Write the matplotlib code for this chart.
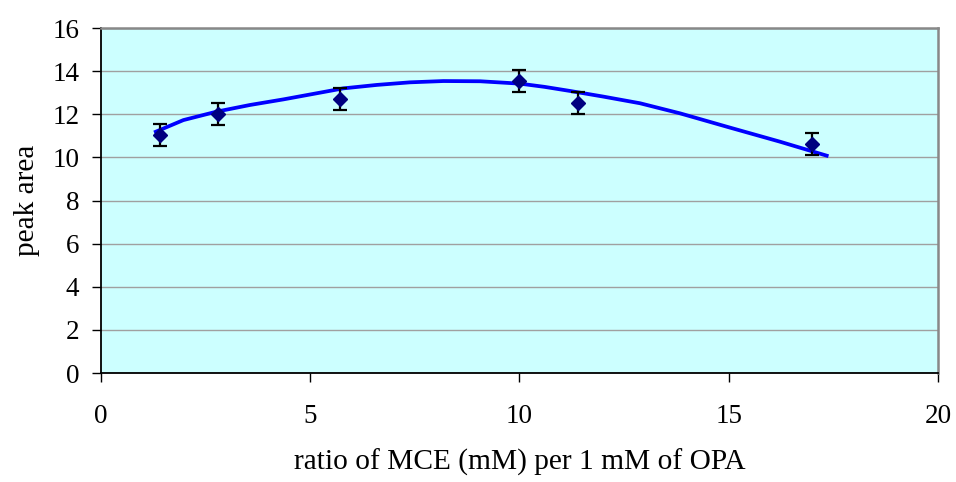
import matplotlib
matplotlib.use("Agg")
import matplotlib.pyplot as plt

ratio = [1.4, 2.8, 5.7, 10.0, 11.4, 17.0]
peak_area = [11.04, 12.0, 12.71, 13.54, 12.51, 10.62]
err = [0.5, 0.5, 0.5, 0.5, 0.5, 0.5]

# trendline
trend_x = [1.31, 1.97, 2.76, 3.56, 4.36, 5.23, 5.79, 6.59, 7.38, 8.18, 9.06,
           10.01, 10.6, 11.21, 12.0, 12.88, 13.84, 15.03, 16.22, 17.34]
trend_y = [11.19, 11.73, 12.12, 12.43, 12.69, 13.0, 13.2, 13.36, 13.48, 13.54, 13.53,
           13.42, 13.27, 13.08, 12.82, 12.51, 12.04, 11.38, 10.73, 10.08]

plt.rcParams['font.family'] = ['Liberation Serif', 'DejaVu Serif']

fig = plt.figure(figsize=(9.56, 4.82), dpi=100)
ax = fig.add_axes([0.1056, 0.2261, 0.8756, 0.7158])
ax.set_facecolor('#CCFFFF')

ax.plot(trend_x, trend_y, color='#0000FF', lw=2.7, zorder=3, solid_joinstyle='round')

ax.errorbar(ratio, peak_area, yerr=err, fmt='D', color='#000080', ms=7,
            ecolor='black', elinewidth=1.6, capsize=5, capthick=1.6, zorder=4)

ax.set_xlim(0, 20)
ax.set_ylim(0, 16)
ax.set_xticks([0, 5, 10, 15, 20])
ax.set_yticks(range(0, 17, 2))
ax.yaxis.grid(True, color='#A0A0A0', lw=1)
ax.set_axisbelow(True)

for s in ['top', 'right']:
    ax.spines[s].set_color('#888888')
    ax.spines[s].set_linewidth(1.8)
for s in ['left', 'bottom']:
    ax.spines[s].set_color('black')
    ax.spines[s].set_linewidth(1.3)

ax.tick_params(axis='y', direction='out', length=6.5, width=1, pad=9, labelsize=19.5)
ax.tick_params(axis='x', direction='out', length=6.5, width=1, pad=16, labelsize=19.5)

ax.set_xlabel('ratio of MCE (mM) per 1 mM of OPA', fontsize=21.2, labelpad=14)
ax.set_ylabel('peak area', fontsize=21.2, labelpad=9)

fig.savefig('out.png', dpi=100)
